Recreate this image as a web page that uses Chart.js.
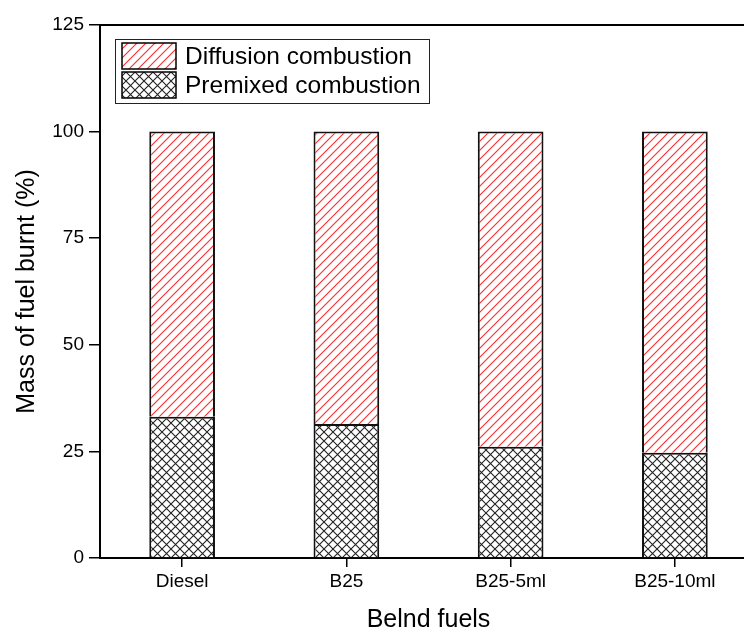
<!DOCTYPE html>
<html>
<head>
<meta charset="utf-8">
<script src="https://cdn.jsdelivr.net/npm/chart.js@4"></script>
<style>
  html, body { margin: 0; padding: 0; background: #fff; overflow: hidden; }
  #wrap { width: 760px; height: 635px; }
</style>
</head>
<body>
<div id="wrap"><canvas id="chart"></canvas></div>
<script>
// Datos
const combustibles = ['Diesel', 'B25', 'B25-5ml', 'B25-10ml'];
const premezclada  = [33.1, 31.4, 26.1, 24.7];
const difusion     = [66.9, 68.6, 73.9, 75.3];
const ticksY       = [0, 25, 50, 75, 100, 125];

const FUENTE = "'Liberation Sans', Arial, sans-serif";

// ── PATRONES DE RELLENO ──
function patronDiagonal(color) {
  const c = document.createElement('canvas');
  c.width = 9; c.height = 9;
  const g = c.getContext('2d');
  g.fillStyle = '#fff';
  g.fillRect(0, 0, 9, 9);
  g.strokeStyle = color;
  g.lineWidth = 1.1;
  g.beginPath();
  g.moveTo(-1, 10); g.lineTo(10, -1);
  g.moveTo(-1, 1);  g.lineTo(1, -1);
  g.moveTo(8, 10);  g.lineTo(10, 8);
  g.stroke();
  return g.createPattern(c, 'repeat');
}

function patronCruzado(color) {
  const c = document.createElement('canvas');
  c.width = 9; c.height = 9;
  const g = c.getContext('2d');
  g.fillStyle = '#fff';
  g.fillRect(0, 0, 9, 9);
  g.strokeStyle = color;
  g.lineWidth = 1.1;
  g.beginPath();
  g.moveTo(-1, 10); g.lineTo(10, -1);
  g.moveTo(-1, -1); g.lineTo(10, 10);
  g.stroke();
  return g.createPattern(c, 'repeat');
}

const rellenoDif = patronDiagonal('#ff2a2a');
const rellenoPre = patronCruzado('#222');

// ── MARCO Y LEYENDA ──
const marcoYLeyenda = {
  id: 'marcoYLeyenda',
  afterDraw(chart) {
    const { ctx, chartArea: a } = chart;
    ctx.save();
    ctx.strokeStyle = '#000';
    ctx.lineWidth = 2;
    ctx.beginPath();
    ctx.moveTo(a.left, a.top); ctx.lineTo(a.right, a.top); ctx.lineTo(a.right, a.bottom);
    ctx.stroke();

    // leyenda
    const x0 = 115, y0 = 39, w = 314, h = 64;
    ctx.fillStyle = '#fff';
    ctx.fillRect(x0, y0, w, h);
    ctx.lineWidth = 1;
    ctx.strokeStyle = '#222';
    ctx.strokeRect(x0 + 0.5, y0 + 0.5, w, h);
    const items = chart.data.datasets.slice().reverse();
    items.forEach((ds, i) => {
      const sy = 43 + i * 29;
      ctx.fillStyle = ds.backgroundColor;
      ctx.fillRect(122, sy, 54, 26);
      ctx.lineWidth = 1.5;
      ctx.strokeStyle = '#000';
      ctx.strokeRect(122, sy, 54, 26);
      ctx.fillStyle = '#000';
      ctx.font = '24.5px ' + FUENTE;
      ctx.textBaseline = 'middle';
      ctx.fillText(ds.label, 185, sy + 14);
    });
    ctx.restore();
  }
};

new Chart(document.getElementById('chart'), {
  type: 'bar',
  data: {
    labels: combustibles,
    datasets: [
      { label: 'Premixed combustion', data: premezclada, backgroundColor: rellenoPre, borderColor: '#111', borderWidth: 2 },
      { label: 'Diffusion combustion', data: difusion, backgroundColor: rellenoDif, borderColor: '#111', borderWidth: 2 },
    ]
  },
  options: {
    responsive: true,
    maintainAspectRatio: false,
    animation: false,
    layout: { padding: { left: 0, right: 3, top: 25, bottom: 0 } },
    datasets: { bar: { barPercentage: 0.4, categoryPercentage: 1 } },
    plugins: { legend: { display: false }, tooltip: { enabled: false } },
    scales: {
      x: {
        stacked: true,
        offset: true,
        afterFit: s => { s.height = 77; },
        grid: { display: true, offset: false, drawOnChartArea: false, drawTicks: true, tickLength: 9, color: '#000', lineWidth: 1.5 },
        border: { display: true, color: '#000', width: 2 },
        ticks: { color: '#000', font: { family: FUENTE, size: 19 }, padding: 3, maxRotation: 0 },
        title: { display: true, text: 'Belnd fuels', color: '#000', font: { family: FUENTE, size: 25 }, padding: { top: 0, bottom: 0 } }
      },
      y: {
        stacked: true,
        min: 0,
        max: 125,
        afterFit: s => { s.width = 100; },
        afterBuildTicks: s => { s.ticks = ticksY.map(v => ({ value: v })); },
        grid: { display: true, drawOnChartArea: false, drawTicks: true, tickLength: 11, color: '#000', lineWidth: 1.5 },
        border: { display: true, color: '#000', width: 2 },
        ticks: { color: '#000', font: { family: FUENTE, size: 19 }, padding: 5 },
        title: { display: true, text: 'Mass of fuel burnt (%)', color: '#000', font: { family: FUENTE, size: 25 }, padding: { top: 12, bottom: 0 } }
      }
    }
  },
  plugins: [marcoYLeyenda]
});
</script>
</body>
</html>
